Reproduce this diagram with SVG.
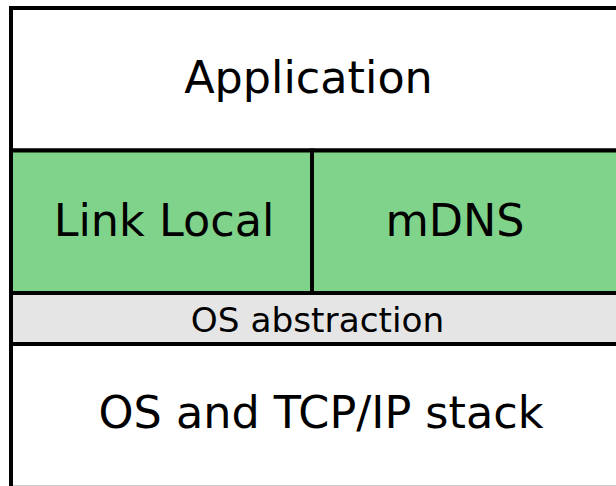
<svg xmlns="http://www.w3.org/2000/svg" width="616" height="486" viewBox="0 0 616 486">
<style>
.box{stroke:#000;stroke-width:4}
.t{font-family:"DejaVu Sans",sans-serif;font-size:44.5px;fill:#000;text-anchor:middle}
.s{font-size:34.3px}
</style>
<rect width="616" height="486" fill="#fff"/>
<g id="application">
<rect class="box" x="11" y="8" width="620" height="142.5" fill="#fff"/>
<text class="t" x="308.5" y="93">Application</text>
</g>
<g id="link-local">
<rect class="box" x="11" y="150.5" width="301" height="142.5" fill="#80d38b"/>
<text class="t" x="164" y="236">Link Local</text>
</g>
<g id="mdns">
<rect class="box" x="312" y="150.5" width="319" height="142.5" fill="#80d38b"/>
<text class="t" x="455" y="236">mDNS</text>
</g>
<g id="os-abstraction">
<rect class="box" x="11" y="293" width="620" height="51" fill="#e5e5e5"/>
<text class="t s" x="317.5" y="332">OS abstraction</text>
</g>
<g id="os-tcpip">
<rect class="box" x="11" y="344" width="620" height="143.8" fill="#fff"/>
<text class="t" x="321" y="428">OS and TCP/IP stack</text>
</g>
<g id="connectors"/>
</svg>
